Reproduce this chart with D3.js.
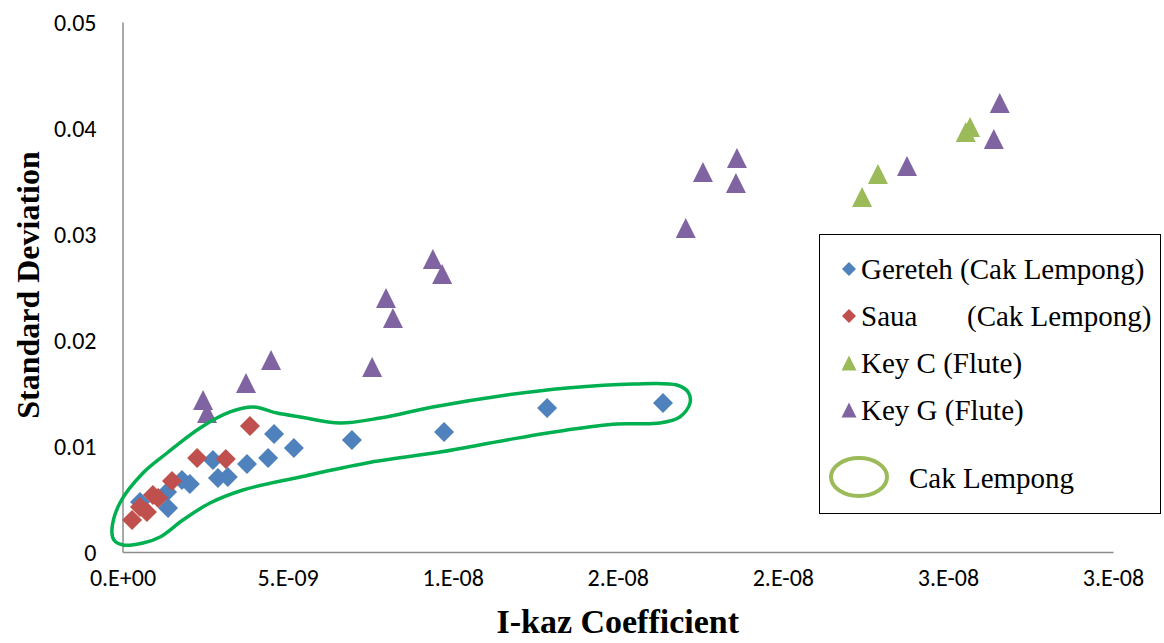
<!DOCTYPE html>
<html>
<head>
<meta charset="utf-8">
<script src="https://cdn.jsdelivr.net/npm/d3@7/dist/d3.min.js"></script>
<style>
  html, body { margin: 0; padding: 0; background: #fff; }
  svg { display: block; }
</style>
</head>
<body>
<div id="chart"></div>
<script>
// values: x in units of 1e-9, y in units of 0.001
const gereteh = [
  [0.53, 4.72], [1.38, 4.15], [1.35, 5.66], [1.80, 6.79], [2.04, 6.42],
  [2.74, 8.68], [2.89, 6.98], [3.19, 7.08], [3.77, 8.30], [4.41, 8.87],
  [4.59, 11.13], [5.19, 9.81], [6.95, 10.57], [9.74, 11.32], [12.86, 13.58],
  [16.37, 14.06]
];
const saua = [
  [0.29, 3.02], [0.53, 4.25], [0.74, 3.77], [0.92, 5.38], [1.08, 5.09],
  [1.50, 6.70], [2.26, 8.87], [3.13, 8.77], [3.86, 11.89]
];
const keyC = [
  [22.40, 33.49], [22.88, 35.66], [25.54, 39.62], [25.67, 40.09]
];
const keyG = [
  [2.44, 14.34], [2.56, 13.11], [3.74, 15.94], [4.50, 18.11], [7.56, 17.45],
  [7.98, 23.96], [8.19, 22.08], [9.40, 27.64], [9.68, 26.23], [17.06, 30.57],
  [17.58, 35.85], [18.61, 37.17], [18.58, 34.81], [23.76, 36.42], [26.39, 38.96],
  [26.57, 42.36]
];
// hand-drawn "Cak Lempong" outline, same units
const cakLempongOutline = [
  [-0.32, 2.08], [-0.08, 4.62], [0.62, 7.45], [1.35, 9.34], [2.35, 11.70],
  [3.26, 13.21], [3.95, 13.68], [4.68, 13.11], [5.38, 12.74], [6.59, 12.17],
  [7.80, 12.64], [9.40, 13.68], [11.64, 14.81], [13.46, 15.47], [15.46, 15.85],
  [16.79, 15.75], [17.13, 15.09], [17.19, 14.06], [16.88, 12.74], [16.28, 12.17],
  [14.98, 12.08], [13.46, 11.51], [11.64, 10.57], [9.62, 9.43], [7.40, 8.40],
  [5.38, 7.08], [3.65, 5.85], [2.65, 4.62], [1.83, 3.02], [1.14, 1.42],
  [0.62, 0.85], [0.02, 0.66], [-0.26, 1.13]
];

const xTicks = [0, 5, 10, 15, 20, 25, 30];
const xTickLabels = ['0.E+00', '5.E-09', '1.E-08', '2.E-08', '2.E-08', '3.E-08', '3.E-08'];
const yTicks = [0, 10, 20, 30, 40, 50];
const yTickLabels = ['0', '0.01', '0.02', '0.03', '0.04', '0.05'];

const legendItems = [
  { label: 'Gereteh (Cak Lempong)', shape: 'diamond', color: '#4F81BD' },
  { label: 'Saua', extra: '(Cak Lempong)', shape: 'diamond', color: '#C0504D' },
  { label: 'Key C (Flute)', shape: 'triangle', color: '#9BBB59' },
  { label: 'Key G (Flute)', shape: 'triangle', color: '#8064A2' }
];

const width = 1164;
const height = 643;
const tickFont = "'Liberation Sans Narrow', 'Arial Narrow', Calibri, sans-serif";
const serifFont = "'Liberation Serif', 'Times New Roman', serif";

const x = d3.scaleLinear().domain([0, 30]).range([122.5, 1113]);
const y = d3.scaleLinear().domain([0, 50]).range([552, 22]);

const svg = d3.select('#chart').append('svg')
  .attr('width', width)
  .attr('height', height);

svg.append('rect').attr('width', width).attr('height', height).attr('fill', '#fff');

// axes
const xAxis = d3.axisBottom(x).tickValues(xTicks).tickSize(0).tickFormat((d, i) => xTickLabels[i]);
const yAxis = d3.axisLeft(y).tickValues(yTicks).tickSize(0).tickFormat((d, i) => yTickLabels[i]);

const gx = svg.append('g').attr('transform', `translate(0,${y(0)})`).call(xAxis);
const gy = svg.append('g').attr('transform', `translate(${x(0)},0)`).call(yAxis);

[gx, gy].forEach(g => {
  g.select('.domain').attr('stroke', '#8c8c8c').attr('stroke-width', 1.5);
  g.selectAll('text')
    .attr('font-family', tickFont)
    .attr('font-size', 24)
    .attr('fill', '#000');
});
gx.selectAll('text').attr('dy', null).attr('y', 34);
gy.selectAll('text').attr('x', -26).attr('dy', '0.35em');

// axis titles
svg.append('text')
  .attr('x', x(15))
  .attr('y', 633)
  .attr('text-anchor', 'middle')
  .attr('font-family', serifFont)
  .attr('font-weight', 'bold')
  .attr('font-size', 34)
  .text('I-kaz Coefficient');

svg.append('text')
  .attr('transform', 'translate(39,285) rotate(-90)')
  .attr('text-anchor', 'middle')
  .attr('font-family', serifFont)
  .attr('font-weight', 'bold')
  .attr('font-size', 32)
  .text('Standard Deviation');

// marker paths
function diamondPath(r) {
  return `M0,${-r}L${r},0L0,${r}L${-r},0Z`;
}
function trianglePath(w, h) {
  return `M0,${-h / 2}L${w / 2},${h / 2}L${-w / 2},${h / 2}Z`;
}

function drawSeries(data, shape, color) {
  svg.append('g')
    .selectAll('path')
    .data(data)
    .join('path')
    .attr('transform', d => `translate(${x(d[0])},${y(d[1])})`)
    .attr('d', shape === 'diamond' ? diamondPath(10) : trianglePath(20, 20))
    .attr('fill', color);
}

drawSeries(gereteh, 'diamond', '#4F81BD');
drawSeries(saua, 'diamond', '#C0504D');
drawSeries(keyC, 'triangle', '#9BBB59');
drawSeries(keyG, 'triangle', '#8064A2');

// enclosure
svg.append('path')
  .datum(cakLempongOutline)
  .attr('d', d3.line().x(d => x(d[0])).y(d => y(d[1])).curve(d3.curveCatmullRomClosed.alpha(0.5)))
  .attr('fill', 'none')
  .attr('stroke', '#00B050')
  .attr('stroke-width', 3.5);

// legend
const legend = svg.append('g');
legend.append('rect')
  .attr('x', 819.5).attr('y', 234.5)
  .attr('width', 341).attr('height', 279)
  .attr('fill', '#fff')
  .attr('stroke', '#000')
  .attr('stroke-width', 1);

const rowY = [269, 316, 363, 410];
legendItems.forEach((item, i) => {
  legend.append('path')
    .attr('transform', `translate(849,${rowY[i]})`)
    .attr('d', item.shape === 'diamond' ? diamondPath(7) : trianglePath(15, 15))
    .attr('fill', item.color);
  legend.append('text')
    .attr('x', 861)
    .attr('y', rowY[i])
    .attr('dy', '0.35em')
    .attr('font-family', serifFont)
    .attr('font-size', 29)
    .text(item.label);
  if (item.extra) {
    legend.append('text')
      .attr('x', 967)
      .attr('y', rowY[i])
      .attr('dy', '0.35em')
      .attr('font-family', serifFont)
      .attr('font-size', 29)
      .text(item.extra);
  }
});

legend.append('ellipse')
  .attr('cx', 859).attr('cy', 477)
  .attr('rx', 28).attr('ry', 19)
  .attr('fill', 'none')
  .attr('stroke', '#9BBB59')
  .attr('stroke-width', 4);

legend.append('text')
  .attr('x', 909)
  .attr('y', 478)
  .attr('dy', '0.35em')
  .attr('font-family', serifFont)
  .attr('font-size', 29)
  .text('Cak Lempong');
</script>
</body>
</html>
